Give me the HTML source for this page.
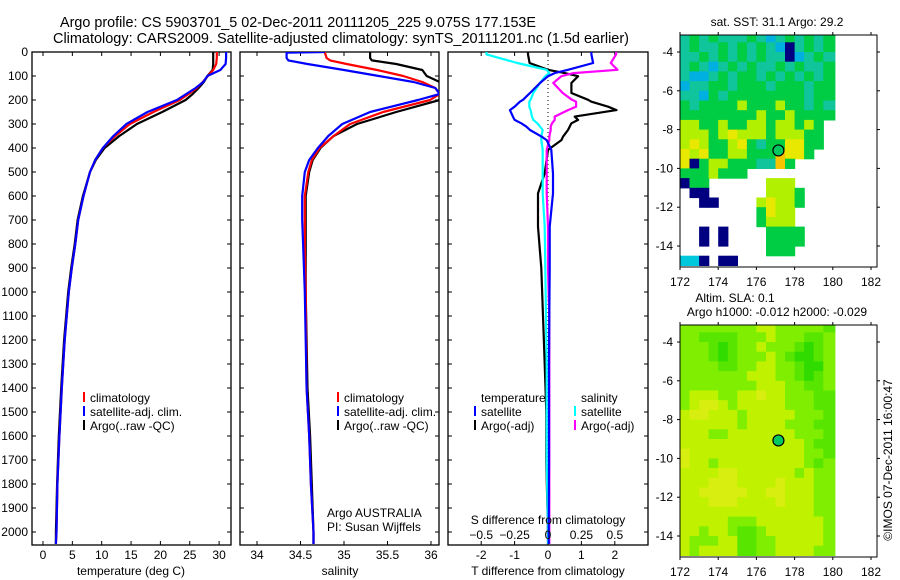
<!DOCTYPE html>
<html><head><meta charset="utf-8">
<style>
html,body{margin:0;padding:0;background:#fff;}
svg{display:block;font-family:"Liberation Sans",Arial,sans-serif;font-size:12px;}
</style></head>
<body>
<svg id="fig" width="900" height="580" viewBox="0 0 900 580" xmlns="http://www.w3.org/2000/svg">
<text x="60" y="27" font-size="14.4" textLength="476" lengthAdjust="spacingAndGlyphs">Argo profile: CS 5903701_5 02-Dec-2011 20111205_225 9.075S 177.153E</text>
<text x="53" y="43" font-size="14.4" textLength="576" lengthAdjust="spacingAndGlyphs">Climatology: CARS2009. Satellite-adjusted climatology: synTS_20111201.nc (1.5d earlier)</text>
<g id="g1"></g>
<g id="g2"></g>
<g id="g3"></g>
<g id="m1"></g>
<g id="m2"></g>
<text x="892" y="460" text-anchor="middle" transform="rotate(-90 892 460)">©IMOS 07-Dec-2011 16:00:47</text>
</svg>
<script>
// ---- data ----
const depths = [0,25,50,75,100,125,150,175,200,250,300,350,400,450,500,600,700,800,900,1000,1200,1400,1600,1800,2000,2050];
const tempClim = [29.6,29.6,29.5,29.0,28.1,27.2,26.2,24.8,23.3,18.8,14.8,12.3,10.2,8.9,8.0,6.9,6.0,5.5,4.9,4.4,3.7,3.2,2.8,2.45,2.3,2.2];
const tempSat  = [31.2,31.2,31.1,30.2,28.0,27.3,26.0,24.4,22.8,17.8,14.2,12.0,10.2,8.9,8.0,6.9,6.0,5.5,4.9,4.4,3.7,3.2,2.8,2.45,2.3,2.2];
const tempArgo = [29.0,29.0,29.0,28.9,28.0,27.4,26.5,25.5,24.3,20.3,16.0,13.0,10.5,9.0,8.0,6.8,5.9,5.4,4.8,4.3,3.6,3.1,2.7,2.4,2.2,2.2];
const salDepths = [0,3,25,35,50,75,100,125,150,175,200,250,300,350,400,450,500,600,700,800,1000,1400,1600,1800,2000,2050];
const salClim = [34.78,34.78,34.8,34.84,35.03,35.38,35.68,35.9,36.05,36.1,35.99,35.45,35.07,34.88,34.72,34.63,34.59,34.55,34.55,34.55,34.56,34.57,34.6,34.62,34.65,34.65];
const salSat  = [34.78,34.34,34.34,34.36,34.58,35.0,35.4,35.8,36.05,36.1,35.85,35.3,34.98,34.82,34.7,34.6,34.55,34.52,34.52,34.53,34.55,34.57,34.6,34.62,34.65,34.65];
const salArgo = [35.3,35.3,35.3,35.32,35.6,35.9,35.95,36.1,36.15,36.15,36.1,35.6,35.15,34.88,34.73,34.64,34.6,34.56,34.56,34.56,34.56,34.58,34.61,34.63,34.65,34.65];
const diffDepths = [0,10,46,74,88,101,129,171,199,207,228,242,269,283,297,311,325,353,367,408,506,589,728,900,1100,1300,1500,1700,2000,2050];
const tDiffSat  = [1.3,1.3,1.35,0.6,0.2,0.0,-0.24,-0.54,-0.75,-0.84,-1.0,-1.14,-1.05,-1.0,-0.8,-0.65,-0.54,-0.19,-0.04,0.1,0.15,0.15,0.05,0.05,0.04,0.03,0.03,0.03,0.02,0.02];
const tDiffArgo = [-0.6,-0.6,-0.55,0.0,0.5,0.9,0.7,0.7,1.2,1.3,1.8,2.05,0.8,0.9,0.7,0.65,0.6,0.45,0.4,0.0,-0.1,-0.3,-0.3,-0.2,-0.15,-0.1,-0.05,-0.05,0.0,0.0];
const sDiffSat  = [-0.46,-0.46,-0.23,-0.01,0.01,-0.02,-0.06,-0.11,-0.13,-0.14,-0.14,-0.13,-0.12,-0.11,-0.08,-0.06,-0.04,-0.05,-0.05,-0.04,-0.04,-0.04,-0.025,-0.02,-0.015,-0.01,-0.01,-0.01,0.0,0.0];
const sDiffArgo = [0.51,0.51,0.47,0.52,0.19,0.1,0.04,0.11,0.18,0.21,0.21,0.15,0.05,0.05,0.03,0.02,0.02,0.01,0.01,-0.01,-0.01,-0.01,0.0,0.0,0.01,0.01,0.01,0.01,0.01,0.01];
const depthTicks = [0,100,200,300,400,500,600,700,800,900,1000,1100,1200,1300,1400,1500,1600,1700,1800,1900,2000];
const tempTicks = [0,5,10,15,20,25,30];
const salTicks = [34,34.5,35,35.5,36];
const tDiffTicks = [-2,-1,0,1,2];
const sDiffTicks = [-0.5,-0.25,0,0.25,0.5];
const lonTicks = [172,174,176,178,180,182];
const latTicks = [-4,-6,-8,-10,-12,-14];
const sstRows = [
"cgcgcccgcbcgcgcg","cgccgcgcgcbncgcg","ccgcgcgcgccnbcgc","cgcbcgcgccgcgccg",
"cbbcgcggcgcgcgcg","bccggcgggcgggcgg","ccbgcggggggggcgg","gcggggygggyggcgc",
"ggggggggyggygggg","yyggyggyygyygyg.","yyygyYyyygyyygg.","yYyggyYgcggYYgg.",
"YyYggyygggoYYg..","Yngyygggccog....","gggyggg.........","ngg......yyy....",
".nn......yyyg...","..nn....yYyyg...","........gYyy....","........gyyy....",
"..n.n....gggg...","..n.n....gggg...",".........ggg....","CCn.nn.........."];
const slaRows = [
"llllllllyylllllg","llgggglllylllggl","lllgGgllylllgGgl","lllgGglllylgGGgl",
"llllggllyyllgGGl","lllllllyyyllgGgl","llllllllyyyllggl","lyyyllyyYyylllgg",
"lyYYylyyyyylllgg","yYYyyylyyyyylllg","yyyyyylyyyylllgg","yyyllyyyyyyylllg",
"yyyyyyyyyyyyylgg","Yyyyyyyyyyyyyllg","Yyylyyyyyyyyylgl","yyyyYYyyyyyylyll",
"yyyYYYyyyyYyyyll","yyYYYYYyyYYyyyll","yyyYYYyyyyYyyyll","yyyyyyyyyyyyyyll",
"yyyyylllyyyyyyyl","yylyylgglyyyyyyl","ylllyyggllyyyyyl","ylyyyyggllyyyyll"];
const argoLon = 177.153, argoLat = -9.075;

const NS="http://www.w3.org/2000/svg";
function mk(tag, attrs, parent){const e=document.createElementNS(NS,tag);for(const k in attrs)e.setAttribute(k,attrs[k]);parent.appendChild(e);return e;}
const yD = d => 52 + d*0.24;
const PT=52, PB=545;

function panel(g, x0, x1, name, clipId){
  const r=mk('rect',{x:x0,y:PT,width:x1-x0,height:PB-PT,fill:'none',stroke:'#000','stroke-width':1.3},g);
  
  
  const cp=mk('clipPath',{id:clipId},g);
  mk('rect',{x:x0,y:PT,width:x1-x0,height:PB-PT},cp);
  depthTicks.forEach(d=>{
    const t1=mk('line',{x1:x0,x2:x0+4,y1:yD(d),y2:yD(d),stroke:'#000'},g);
    
    
    const t2=mk('line',{x1:x1-4,x2:x1,y1:yD(d),y2:yD(d),stroke:'#000'},g);
    
    
  });
}
function xticks(g,ticks,sx,label){
  ticks.forEach(v=>{
    const x=sx(v);
    const a=mk('line',{x1:x,x2:x,y1:PB,y2:PB-4,stroke:'#000'},g);
    
    
    const b=mk('line',{x1:x,x2:x,y1:PT,y2:PT+4,stroke:'#000'},g);
    
    
    if(label){const t=mk('text',{x:x,y:559,'text-anchor':'middle'},g);t.textContent=String(v);
      
      }
  });
}
function line(g, xs, ds, sx, color, name, clip, w){
  const pts=xs.map((v,i)=>sx(v).toFixed(1)+','+yD(ds[i]).toFixed(1)).join(' ');
  const p=mk('polyline',{points:pts,fill:'none',stroke:color,'stroke-width':w||2.2,'stroke-linejoin':'round','clip-path':'url(#'+clip+')'},g);
  
  
}
function txt(g,x,y,s,name,anchor){const t=mk('text',{x:x,y:y,'text-anchor':anchor||'start'},g);t.textContent=s;
  
  return t;}
function legend(g,x,y,color,label,name){
  const b=mk('rect',{x:x,y:y-10,width:2,height:10,fill:color},g);
  
  
  txt(g,x+7,y,label,name);
}

// Panel 1 temperature
const g1=document.getElementById('g1');
const sxT = v => 43 + v*5.87;
panel(g1,32,231,'temperature-panel','c1');
depthTicks.forEach(d=>{txt(g1,28,yD(d)+4,String(d),'depth-tick-label','end');});
xticks(g1,tempTicks,sxT,true);
line(g1,tempArgo,depths,sxT,'#000','temperature-argo-line','c1');
line(g1,tempClim,depths,sxT,'#f00','temperature-climatology-line','c1');
line(g1,tempSat,depths,sxT,'#00f','temperature-satellite-line','c1');
legend(g1,83,402,'#f00','climatology','legend-climatology');
legend(g1,83,416,'#00f','satellite-adj. clim.','legend-satellite');
legend(g1,83,430,'#000','Argo(..raw -QC)','legend-argo');
txt(g1,131,575,'temperature (deg C)','x-axis-title-temperature','middle');

// Panel 2 salinity
const g2=document.getElementById('g2');
const sxS = v => 257 + (v-34)*87;
panel(g2,240,439,'salinity-panel','c2');
xticks(g2,salTicks,sxS,true);
line(g2,salArgo,salDepths,sxS,'#000','salinity-argo-line','c2');
line(g2,salClim,salDepths,sxS,'#f00','salinity-climatology-line','c2');
line(g2,salSat,salDepths,sxS,'#00f','salinity-satellite-line','c2');
legend(g2,337,402,'#f00','climatology','legend-climatology');
legend(g2,337,416,'#00f','satellite-adj. clim.','legend-satellite');
legend(g2,337,430,'#000','Argo(..raw -QC)','legend-argo');
txt(g2,327,517,'Argo AUSTRALIA','credit-argo-australia');
txt(g2,327,531,'PI: Susan Wijffels','credit-pi');
txt(g2,340,575,'salinity','x-axis-title-salinity','middle');

// Panel 3 differences
const g3=document.getElementById('g3');
const sxD = v => 548 + v*33.4;
const sxSD = v => 548 + v*133.6;
panel(g3,448,648,'difference-panel','c3');
xticks(g3,tDiffTicks,sxD,true);
const z=mk('line',{x1:548,x2:548,y1:PT,y2:PB,stroke:'#000','stroke-dasharray':'1,3'},g3);


line(g3,tDiffArgo,diffDepths,sxD,'#000','t-diff-argo-line','c3');
line(g3,sDiffArgo,diffDepths,sxSD,'#f0f','s-diff-argo-line','c3');
line(g3,sDiffSat,diffDepths,sxSD,'#0ff','s-diff-satellite-line','c3');
line(g3,tDiffSat,diffDepths,sxD,'#00f','t-diff-satellite-line','c3');
sDiffTicks.forEach(v=>{txt(g3,sxSD(v),539,String(v).replace('-','−'),'s-tick-label','middle');});
txt(g3,481,402,'temperature','legend-temperature-heading');
legend(g3,474,416,'#00f','satellite','legend-t-satellite');
legend(g3,474,430,'#000','Argo(-adj)','legend-t-argo');
txt(g3,581,402,'salinity','legend-salinity-heading');
legend(g3,574,416,'#0ff','satellite','legend-s-satellite');
legend(g3,574,430,'#f0f','Argo(-adj)','legend-s-argo');
txt(g3,548,524,'S difference from climatology','s-axis-title','middle');
txt(g3,548,575,'T difference from climatology','t-axis-title','middle');

// Maps
const sstCol={c:'#10c49c',g:'#00cc44',y:'#b0f000',Y:'#e8e800',o:'#f8c400',n:'#000080',b:'#00b0e0',C:'#00c8dc'};
const slaCol={l:'#80ee00',y:'#c0f200',Y:'#d8ee10',g:'#58e600',G:'#30dc00'};
function map(g, top, rows, cols, name){
  const L=680,R=877,B=top+232;
  const sx=lon=>680+(lon-172)*19.1;
  const sy=lat=>top+17+(-4-lat)*19.4;
  const cp=mk('clipPath',{id:'cp'+name},g);
  mk('rect',{x:L,y:top,width:R-L,height:B-top},cp);
  const cells=mk('g',{'clip-path':'url(#cp'+name+')'},g);
  rows.forEach((row,r)=>{
    for(let c=0;c<row.length;c++){
      const ch=row[c]; if(ch==='.')continue;
      const lon=172+c*0.5, lat=-3+(-0.5)*r;
      const extra = (c===row.length-1) ? 0.1 : 0;
      const e=mk('rect',{x:sx(lon).toFixed(1),y:(sy(lat)-(r===0?6:0)).toFixed(1),width:(9.55+extra*19.1+0.6).toFixed(1),height:(9.7+(r===0?6:0)+0.6).toFixed(1),fill:cols[ch]},cells);
      
      
    }
  });
  const f=mk('rect',{x:L,y:top,width:R-L,height:B-top,fill:'none',stroke:'#000'},g);
  
  
  lonTicks.forEach(v=>{
    const x=sx(v);
    const a=mk('line',{x1:x,x2:x,y1:top,y2:top-3,stroke:'#000'},g);
    
    
    const b=mk('line',{x1:x,x2:x,y1:B,y2:B+3,stroke:'#000'},g);
    
    
    txt(g,x,B+19,String(v),'lon-tick-label','middle');
  });
  latTicks.forEach(v=>{
    const y=sy(v);
    const a=mk('line',{x1:L,x2:L-3,y1:y,y2:y,stroke:'#000'},g);
    
    
    const b=mk('line',{x1:R,x2:R+3,y1:y,y2:y,stroke:'#000'},g);
    
    
    txt(g,673,y+4,String(v),'lat-tick-label','end');
  });
  const m=mk('circle',{cx:sx(argoLon),cy:sy(argoLat),r:5.5,fill:'#00c860',stroke:'#000','stroke-width':1.2},g);
  
  
}
const m1=document.getElementById('m1');
map(m1,35,sstRows,sstCol,'sst');
txt(m1,777,26,'sat. SST: 31.1  Argo: 29.2','sst-map-title','middle');
const m2=document.getElementById('m2');
map(m2,325,slaRows,slaCol,'sla');
txt(m2,735,302,'Altim. SLA: 0.1','sla-map-title','middle');
txt(m2,777,316,'Argo h1000: -0.012 h2000: -0.029','sla-map-subtitle','middle');
</script>
</body></html>
